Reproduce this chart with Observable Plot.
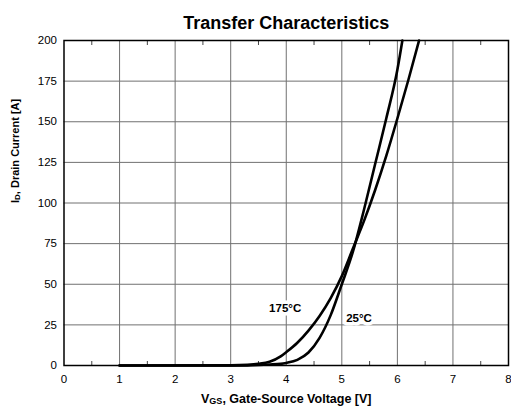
<!DOCTYPE html>
<html>
<head>
<meta charset="utf-8">
<script src="https://cdn.jsdelivr.net/npm/d3@7"></script>
<script src="https://cdn.jsdelivr.net/npm/@observablehq/plot@0.6"></script>
<style>
  html, body { margin: 0; padding: 0; background: #fff; }
  svg { display: block; }
</style>
</head>
<body>
<div id="chart"></div>
<script>
// ---- data ----
const title = "Transfer Characteristics";
const xLabel = "VGS, Gate-Source Voltage [V]";
const yLabel = "ID, Drain Current [A]";
const xTicks = [0, 1, 2, 3, 4, 5, 6, 7, 8];
const yTicks = [0, 25, 50, 75, 100, 125, 150, 175, 200];
const xMinorTicks = [0.5, 1.5, 2.5, 3.5, 4.5, 5.5, 6.5, 7.5];

const v25  = [1, 3.0, 3.3, 3.5, 3.7, 3.9, 4.0, 4.2, 4.4, 4.6, 4.8, 5.0, 5.2, 5.4, 5.6, 5.8, 6.0, 6.09];
const i25  = [0, 0,   0.1, 0.3, 0.6, 1.0, 1.6, 3.5, 8,   17,  31,  50,  70,  96,  124, 152, 182, 200];
const v175 = [1, 3.0, 3.3, 3.5, 3.7, 3.9, 4.0, 4.2, 4.4,  4.6,  4.8,  5.0, 5.2, 5.4, 5.6, 5.8, 6.0, 6.2, 6.39];
const i175 = [0, 0.1, 0.4, 1.0, 2.3, 5.6, 8.2, 14,  21.5, 30.5, 41.5, 55,  72,  89,  108, 129, 152, 176, 200];

const seriesNames = ["25°C", "175°C"];
const labelX = [5.31, 3.98];
const labelY = [29, 35.5];

const data = [
  ...v25.map((v, k) => ({series: seriesNames[0], v, i: i25[k]})),
  ...v175.map((v, k) => ({series: seriesNames[1], v, i: i175[k]}))
];
const labels = seriesNames.map((s, k) => ({s, x: labelX[k], y: labelY[k]}));

const font = "'Liberation Sans', Arial, sans-serif";

const chart = Plot.plot({
  width: 511,
  height: 414,
  marginLeft: 63.5,
  marginRight: 3,
  marginTop: 40,
  marginBottom: 49,
  style: {fontFamily: font, fontSize: "11.5px", color: "#000", background: "#fff"},
  x: {domain: [0, 8], ticks: xTicks},
  y: {domain: [0, 200], ticks: yTicks},
  marks: [
    Plot.gridX(xTicks.slice(1, -1), {stroke: "#707070", strokeOpacity: 1, strokeWidth: 1}),
    Plot.gridY(yTicks.slice(1, -1), {stroke: "#707070", strokeOpacity: 1, strokeWidth: 1}),
    Plot.axisX(xMinorTicks, {anchor: "bottom", tickSize: -4, tickFormat: () => "", stroke: "#444", label: null}),
    Plot.axisX(xMinorTicks, {anchor: "top", tickSize: -4, tickFormat: () => "", stroke: "#444", label: null}),
    Plot.axisX(xTicks, {anchor: "bottom", tickSize: 0, tickPadding: 9, label: null, fontSize: 11.5}),
    Plot.axisY(yTicks, {anchor: "left", tickSize: 0, tickPadding: 7, label: null, fontSize: 11.5}),
    Plot.line(data, {x: "v", y: "i", z: "series", stroke: "#000", strokeWidth: 2.6, curve: "monotone-x"}),
    Plot.text(labels, {x: "x", y: "y", text: "s", fontWeight: "bold", fontSize: 11.5, fill: "#000",
      stroke: "#fff", strokeWidth: 7, paintOrder: "stroke"}),
    Plot.frame({stroke: "#000", strokeWidth: 1.5}),
    Plot.text([title], {frameAnchor: "top", dy: -24, fontWeight: "bold", fontSize: 18, className: "ttl"}),
    Plot.text([xLabel], {frameAnchor: "bottom", dy: 37, fontWeight: "bold", fontSize: 12.5, className: "xlab"}),
    Plot.text([yLabel], {frameAnchor: "left", dx: -49, rotate: -90, fontWeight: "bold", fontSize: 11, className: "ylab"})
  ]
});

document.getElementById("chart").appendChild(chart);

// subscripts in axis labels
function subscript(cls, main, sub, rest, size) {
  d3.select(chart).selectAll(`g.${cls} text`).each(function() {
    const t = d3.select(this);
    t.text(null);
    t.append("tspan").text(main);
    t.append("tspan").attr("font-size", size).attr("dy", "1.5").text(sub);
    t.append("tspan").attr("dy", "-1.5").text(rest);
  });
}
subscript("xlab", "V", "GS", ", Gate-Source Voltage [V]", "9px");
subscript("ylab", "I", "D", ", Drain Current [A]", "8px");
</script>
</body>
</html>
